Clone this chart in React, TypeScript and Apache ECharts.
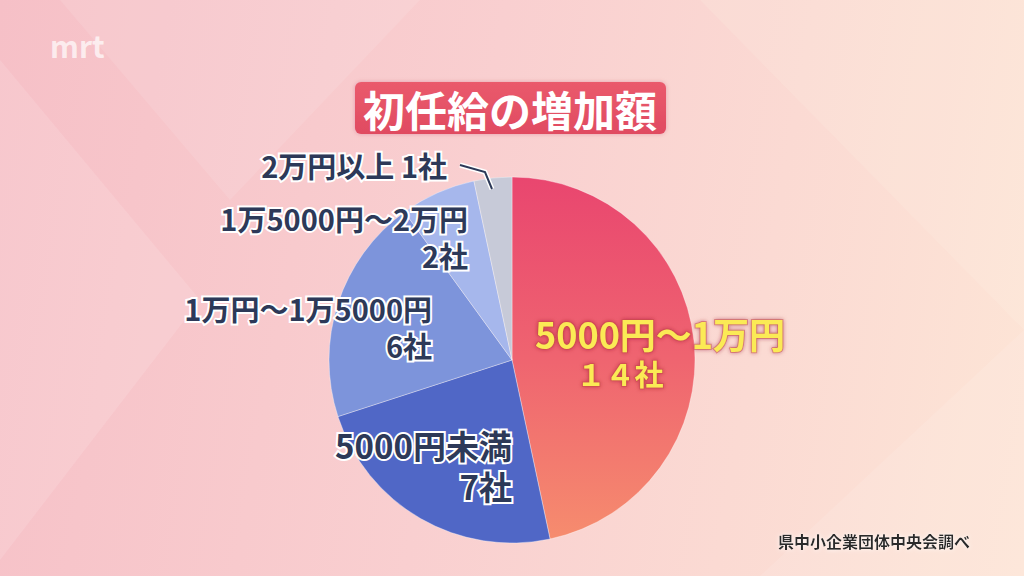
import React, { useEffect, useRef } from "react";
import * as echarts from "echarts";

const categories = ["5000円～1万円", "5000円未満", "1万円～1万5000円", "1万5000円～2万円", "2万円以上"];
const counts = [14, 7, 6, 2, 1];
const countLabels = ["１４社", "7社", "6社", "2社", "1社"];
const titleText = "初任給の増加額";
const sourceText = "県中小企業団体中央会調べ";
const logoText = "mrt";

const FONT = '"Noto Sans CJK JP", "Noto Sans", sans-serif';

const labelPos: [number, number, string][] = [
  [660, 352, "center"],
  [512, 465, "right"],
  [432, 326, "right"],
  [468, 236, "right"],
  [447, 165, "right"],
];

const sliceColors = [
  new echarts.graphic.LinearGradient(0, 0, 0, 1, [
    { offset: 0, color: "#e9466f" },
    { offset: 0.5, color: "#ef6470" },
    { offset: 1, color: "#f68c6e" },
  ]),
  "#5067c6",
  "#7d94db",
  "#a6b7ec",
  "#c7cad8",
];

export default function App() {
  const ref = useRef<HTMLDivElement>(null);
  useEffect(() => {
    if (!ref.current) return;
    const chart = echarts.init(ref.current, null, { renderer: "svg" });
    const navy = "#2d3958";
    const side = (fs: number) => ({
      fontFamily: FONT,
      fontWeight: "bold",
      fontSize: fs,
      color: navy,
      textBorderColor: "#ffffff",
      textBorderWidth: 4,
      lineHeight: fs + 8,
      align: "right",
    });
    const yellow = (fs: number, lh: number) => ({
      fontFamily: FONT, fontWeight: "bold", fontSize: fs,
      color: "#fbea55",
      textBorderColor: "rgba(200,70,70,0.5)", textBorderWidth: 2,
      textShadowColor: "rgba(140,20,40,0.55)", textShadowBlur: 4,
      lineHeight: lh, align: "center",
    });
    const leader = [[460, 165], [485, 172], [492, 189]];
    chart.setOption({
      animation: false,
      graphic: [
        { type: "polygon", shape: { points: [[0, 60], [200, 300], [0, 560]] }, style: { fill: "rgba(255,255,255,0.12)" }, silent: true },
        { type: "polygon", shape: { points: [[60, 0], [230, 200], [420, 0]] }, style: { fill: "rgba(255,255,255,0.10)" }, silent: true },
        { type: "polygon", shape: { points: [[700, 0], [1024, 330], [1024, 0]] }, style: { fill: "rgba(255,250,235,0.15)" }, silent: true },
        { type: "polygon", shape: { points: [[760, 576], [1024, 330], [1024, 576]] }, style: { fill: "rgba(255,255,255,0.10)" }, silent: true },
        {
          type: "text", left: 50, top: 30,
          style: { text: logoText, font: `bold 30px ${FONT}`, fill: "rgba(255,255,255,0.7)" },
        },
        {
          type: "rect", shape: { x: 355, y: 82, width: 311, height: 52, r: 6 },
          style: {
            fill: new echarts.graphic.LinearGradient(0, 0, 0, 1, [
              { offset: 0, color: "#ea5a6c" },
              { offset: 1, color: "#e04b61" },
            ]),
            shadowColor: "rgba(160,40,60,0.25)", shadowBlur: 4,
          },
        },
        {
          type: "text", x: 510, y: 108,
          style: { text: titleText, font: `bold 42px ${FONT}`, fill: "#ffffff", align: "center", verticalAlign: "middle" },
        },
        {
          type: "polyline", z: 20, shape: { points: leader },
          style: { stroke: "#ffffff", lineWidth: 5, fill: "none" },
        },
        {
          type: "polyline", z: 21, shape: { points: leader },
          style: { stroke: navy, lineWidth: 2, fill: "none" },
        },
        {
          type: "text", x: 970, y: 541,
          style: {
            text: sourceText, font: `bold 16px ${FONT}`, fill: "#2a2a2a", align: "right", verticalAlign: "middle",
            textShadowColor: "rgba(255,255,255,0.9)", textShadowBlur: 4,
          },
        },
      ],
      series: [
        {
          type: "pie",
          center: [512, 360],
          radius: [0, 183],
          startAngle: 90,
          clockwise: true,
          labelLine: { show: false },
          itemStyle: { borderColor: "rgba(255,255,255,0.35)", borderWidth: 1 },
          label: {
            show: true,
            position: "outside",
            formatter: (p: any) => {
              const i = p.dataIndex;
              if (i === 0) return `{a|${categories[i]}}\n{b|${countLabels[i]}}`;
              if (i === 4) return `{s4|${categories[i]} ${countLabels[i]}}`;
              return `{s${i}|${categories[i]}}\n{s${i}|${countLabels[i]}}`;
            },
            rich: {
              a: yellow(36, 42),
              b: { ...yellow(29, 38), padding: [0, 80, 0, 0] },
              s1: side(33),
              s2: side(29),
              s3: side(29),
              s4: side(29),
            },
          },
          labelLayout: (p: any) => {
            const lp = labelPos[p.dataIndex];
            return { x: lp[0], y: lp[1], align: lp[2], verticalAlign: "middle" };
          },
          data: categories.map((c, i) => ({
            name: c,
            value: counts[i],
            itemStyle: { color: sliceColors[i] },
          })),
        },
      ],
    });
    return () => chart.dispose();
  }, []);
  return (
    <div
      ref={ref}
      style={{
        position: "fixed", left: 0, top: 0, width: 1024, height: 576,
        background: "linear-gradient(100deg, #f6c0c7 0%, #f9cfd0 45%, #fde5d6 100%)",
      }}
    />
  );
}
